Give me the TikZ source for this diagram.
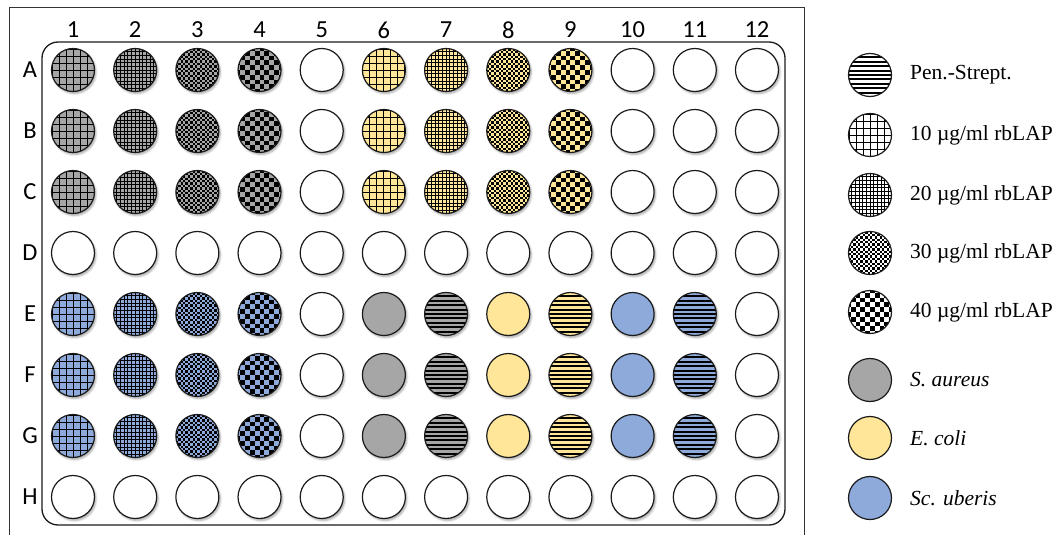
\documentclass[tikz,border=0pt]{standalone}
\usepackage{fontspec}
\setmainfont{Liberation Serif}
\newfontfamily\labfont{Carlito}
\usetikzlibrary{shadows.blur}

\definecolor{wgray}{HTML}{A6A6A6}
\definecolor{wyel}{HTML}{FFE699}
\definecolor{wblue}{HTML}{8EAADB}
\definecolor{edgec}{HTML}{1A1A1A}
\definecolor{framec}{HTML}{333333}

% pattern drawing commands (used inside path picture)
\newcommand\gridpat[2]{%
  \draw[line width=#2, black] ([shift={(-28pt,-28pt)}]path picture bounding box.center)
    grid[step=#1] ([shift={(28pt,28pt)}]path picture bounding box.center);}
\newcommand\checkpat[2]{%
  \begin{scope}[shift={(path picture bounding box.center)}]
    \foreach \i in {-#2,...,#2}{\foreach \j in {-#2,...,#2}{%
      \pgfmathtruncatemacro\m{mod(\i+\j+100,2)}%
      \ifnum\m=0 \fill[black] (\i*#1,\j*#1) rectangle ++(#1,#1);\fi}}
  \end{scope}}
\newcommand\linepat{%
  \begin{scope}[shift={(path picture bounding box.center)}]
    \foreach \k in {-5,...,5}{\draw[line width=1.9pt, black] (-25pt,\k*4.4pt) -- (25pt,\k*4.4pt);}
  \end{scope}}

\tikzset{
  lab/.style={font=\labfont\fontsize{24.5}{28}\selectfont, text=black, inner sep=0pt},
  legtxt/.style={font=\fontsize{21.5}{25}\selectfont, anchor=west, inner sep=0pt},
  disc/.style={circle, draw=edgec, line width=1.2pt, minimum size=43pt, inner sep=0pt, fill=white},
  well/.style={disc, blur shadow={shadow xshift=1.5pt, shadow yshift=-2pt, shadow blur radius=2pt, shadow opacity=35}},
  pA/.style={path picture={\gridpat{7pt}{0.9pt}}},
  pB/.style={path picture={\gridpat{3.7pt}{0.7pt}}},
  pC/.style={path picture={\checkpat{2.4pt}{10}}},
  pD/.style={path picture={\checkpat{4.8pt}{5}}},
  pL/.style={path picture={\linepat}},
  w0/.style={},
  gA/.style={fill=wgray,pA}, gB/.style={fill=wgray,pB}, gC/.style={fill=wgray,pC}, gD/.style={fill=wgray,pD},
  yA/.style={fill=wyel,pA},  yB/.style={fill=wyel,pB},  yC/.style={fill=wyel,pC},  yD/.style={fill=wyel,pD},
  bA/.style={fill=wblue,pA}, bB/.style={fill=wblue,pB}, bC/.style={fill=wblue,pC}, bD/.style={fill=wblue,pD},
  gP/.style={fill=wgray}, gL/.style={fill=wgray,pL},
  yP/.style={fill=wyel},  yL/.style={fill=wyel,pL},
  bP/.style={fill=wblue}, bL/.style={fill=wblue,pL},
}

\begin{document}
\begin{tikzpicture}[x=1pt,y=-1pt]
\useasboundingbox (0,0) rectangle (1061,535);

% outer frame (open at the bottom)
\draw[framec, line width=1pt] (9,536) -- (9,8) -- (804,8) -- (804,536);
% plate
\draw[edgec, line width=1.3pt, rounded corners=16pt] (42,42) rectangle (785,525);

% column and row labels
\foreach \c in {1,...,12}
  \node[lab] (col\c) at ({73+62.18*(\c-1)},30) {\c};
\foreach \r [count=\k] in {A,...,H}
  \node[lab] (row\r) at (30,{70+61*(\k-1)}) {\r};

% wells
\foreach \r/\row [count=\k] in {
  A/{gA,gB,gC,gD,w0,yA,yB,yC,yD,w0,w0,w0},
  B/{gA,gB,gC,gD,w0,yA,yB,yC,yD,w0,w0,w0},
  C/{gA,gB,gC,gD,w0,yA,yB,yC,yD,w0,w0,w0},
  D/{w0,w0,w0,w0,w0,w0,w0,w0,w0,w0,w0,w0},
  E/{bA,bB,bC,bD,w0,gP,gL,yP,yL,bP,bL,w0},
  F/{bA,bB,bC,bD,w0,gP,gL,yP,yL,bP,bL,w0},
  G/{bA,bB,bC,bD,w0,gP,gL,yP,yL,bP,bL,w0},
  H/{w0,w0,w0,w0,w0,w0,w0,w0,w0,w0,w0,w0}}{
  \foreach \s [count=\c] in \row {
    \node[well,\s] (\r\c) at ({73+62.18*(\c-1)},{70+61*(\k-1)}) {};
  }
}

% legend
\node[disc,pL] (leg1) at (870,75) {};
\node[legtxt] (txt1) at (910,75) {Pen.-Strept.};
\node[disc,pA] (leg2) at (870,135) {};
\node[legtxt] (txt2) at (910,135) {10 µg/ml rbLAP};
\node[disc,pB] (leg3) at (870,195) {};
\node[legtxt] (txt3) at (910,195) {20 µg/ml rbLAP};
\node[disc,pC] (leg4) at (870,253) {};
\node[legtxt] (txt4) at (910,253) {30 µg/ml rbLAP};
\node[disc,pD] (leg5) at (870,312) {};
\node[legtxt] (txt5) at (910,312) {40 µg/ml rbLAP};
\node[disc,gP] (leg6) at (870,380) {};
\node[legtxt] (txt6) at (910,380) {\itshape S. aureus};
\node[disc,yP] (leg7) at (870,438) {};
\node[legtxt] (txt7) at (910,438) {\itshape E. coli};
\node[disc,bP] (leg8) at (870,498) {};
\node[legtxt] (txt8) at (910,498) {\itshape Sc. uberis};
\end{tikzpicture}
\end{document}
